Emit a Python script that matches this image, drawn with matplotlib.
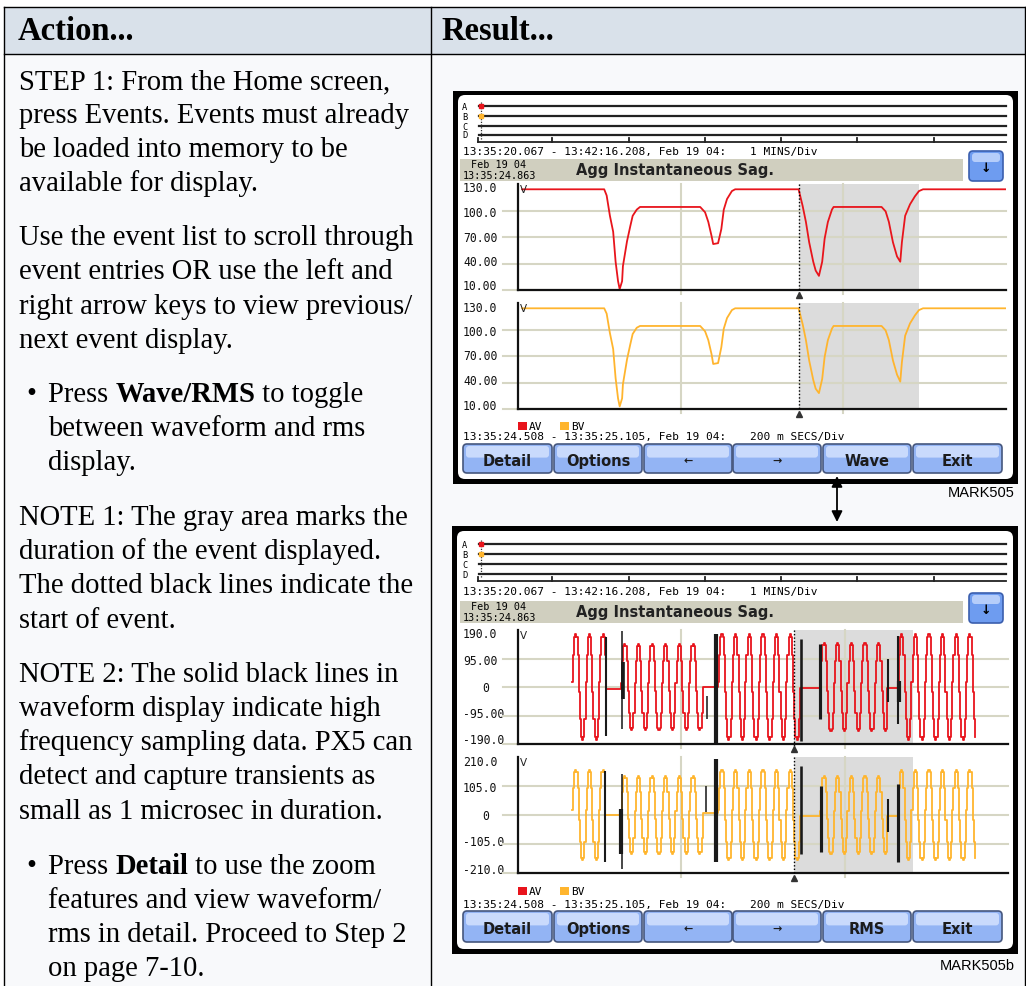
import matplotlib
matplotlib.use('Agg')
import matplotlib.pyplot as plt
from matplotlib.patches import Rectangle, FancyBboxPatch
from matplotlib.transforms import blended_transform_factory

# ---------------- data ----------------
# RMS view (top screenshot): time in ms from 13:35:24.508, volts
rms_t_ms = [5, 106, 109, 113, 117, 120, 123, 125, 128, 129, 134, 138, 141, 146, 150,
            224, 230, 234, 238, 240, 246, 250, 253, 257, 263, 267,
            345, 350, 354, 358, 363, 366, 370, 374, 377, 381, 386, 388,
            447, 452, 456, 461, 466, 470, 472, 476, 482, 488, 493, 498, 600]
rms_av = [124, 124, 117, 94, 76, 42, 20, 11, 20, 37, 65, 82, 94, 101, 104,
          104, 98, 87, 71, 62, 63, 79, 101, 113, 122, 124,
          124, 105, 87, 64, 42, 32, 26, 42, 68, 87, 101, 104,
          104, 99, 87, 64, 48, 42, 64, 94, 107, 116, 122, 124, 124]
rms_bv = [124, 124, 118, 96, 78, 45, 22, 13, 22, 38, 66, 83, 95, 102, 104,
          104, 98, 88, 72, 61, 62, 80, 101, 113, 122, 124,
          124, 106, 88, 65, 43, 33, 28, 44, 69, 88, 101, 104,
          104, 99, 88, 65, 49, 41, 63, 93, 107, 116, 122, 124, 124]
rms_yticks = [130, 100, 70, 40, 10]
rms_ylabels = ['130.0', '100.0', '70.00', '40.00', '10.00']
wave_av_yticks = [190, 95, 0, -95, -190]
wave_av_ylabels = ['190.0', '95.00', '0', '-95.00', '-190.0']
wave_bv_yticks = [210, 105, 0, -105, -210]
wave_bv_ylabels = ['210.0', '105.0', '0', '-105.0', '-210.0']

# Waveform view (bottom screenshot): one stepped cycle shape as drawn on screen
wave_cycle_shape = [0.1, 0.6, 0.95, 1.0, 0.95, 0.6, -0.1, -0.6, -0.95, -1.0, -0.95, -0.6]
cycle_ms = 16.7
# runs of cycles: (start ms, end ms, peak volts)
av_runs = [(66, 108, 177), (126, 226, 143), (245, 345, 177), (370, 452, 147), (465, 560, 177)]
bv_runs = [(66, 107, 163), (126, 226, 141), (245, 345, 163), (370, 452, 141), (465, 560, 163)]
# flat (no-signal) stretches: (start ms, end ms, level)
av_flats = [(108, 126, -5), (226, 245, 0), (345, 370, -3), (452, 465, -3)]
bv_flats = [(107, 126, 0), (226, 245, 8), (345, 370, -3), (452, 465, -3)]
# high-frequency sampling bars: (ms, low, high, width)
av_hf = [(108, -163, 167, 2), (127, -140, 187, 1.5), (128, -40, 83, 3.5), (231, -107, -30, 1.5),
         (242, -190, 177, 4), (346, -180, 160, 2.5), (370, -107, 143, 3),
         (453, -50, 93, 2), (465, -123, 170, 2), (466, -50, 20, 4)]
bv_hf = [(107, -170, 159, 2), (127, -195, 148, 1.5), (126, -141, 22, 4), (230, 11, 105, 1.5),
         (242, -170, 203, 4), (346, -141, 177, 2.5), (371, -134, 105, 3),
         (453, -62, 58, 2), (465, -170, 112, 3)]

overview_span = "13:35:20.067 - 13:42:16.208, Feb 19 04:"
detail_span = "13:35:24.508 - 13:35:25.105, Feb 19 04:"
buttons_top = ['Detail', 'Options', '\u2190', '\u2192', 'Wave', 'Exit']
buttons_bottom = ['Detail', 'Options', '\u2190', '\u2192', 'RMS', 'Exit']

left_lines = [
    [("STEP 1: From the Home screen,", False)],
    [("press Events. Events must already", False)],
    [("be loaded into memory to be", False)],
    [("available for display.", False)],
    [("Use the event list to scroll through", False)],
    [("event entries OR use the left and", False)],
    [("right arrow keys to view previous/", False)],
    [("next event display.", False)],
    [("Press ", False), ("Wave/RMS", True), (" to toggle", False)],
    [("between waveform and rms", False)],
    [("display.", False)],
    [("NOTE 1: The gray area marks the", False)],
    [("duration of the event displayed.", False)],
    [("The dotted black lines indicate the", False)],
    [("start of event.", False)],
    [("NOTE 2: The solid black lines in", False)],
    [("waveform display indicate high", False)],
    [("frequency sampling data. PX5 can", False)],
    [("detect and capture transients as", False)],
    [("small as 1 microsec in duration.", False)],
    [("Press ", False), ("Detail", True), (" to use the zoom", False)],
    [("features and view waveform/", False)],
    [("rms in detail. Proceed to Step 2", False)],
    [("on page 7-10.", False)],
]
left_line_y = [79, 113, 147, 181, 235, 269, 304, 338, 392, 426, 460, 515, 549, 583, 618,
               672, 706, 740, 774, 809, 864, 898, 932, 966]
left_bullets = {8, 20}
left_indent = {8, 9, 10, 20, 21, 22, 23}

# ---------------- figure ----------------
W, H = 1026, 987
fig = plt.figure(figsize=(W / 100, H / 100), dpi=100)
bg = fig.add_axes([0, 0, 1, 1])
bg.set_xlim(0, W)
bg.set_ylim(H, 0)
bg.axis('off')

RED = '#e8141c'
YEL = '#ffb52e'
GRID = '#d6d6c4'
SHADE = '#dcdcdc'
MONO = 'DejaVu Sans Mono'
BODY_FS = 20.6

# table
bg.add_patch(Rectangle((4, 8), W - 4, 47, facecolor='#d9e1ea', edgecolor='none', zorder=0))
bg.add_patch(Rectangle((4, 55), W - 4, H - 55, facecolor='#f8f9fb', edgecolor='none', zorder=0))
for seg in [((4, 1025), (8, 8)), ((4, 1025), (55, 55)), ((4, 4), (8, H)), ((431, 431), (8, H)),
            ((1025, 1025), (8, H))]:
    bg.plot(seg[0], seg[1], color='black', lw=1.0, zorder=1)
bg.text(18, 31, "Action...", family='Liberation Serif', weight='bold', fontsize=23.5,
        va='center', ha='left')
bg.text(441, 31, "Result...", family='Liberation Serif', weight='bold', fontsize=23.5,
        va='center', ha='left')

fig.canvas.draw()
renderer = fig.canvas.get_renderer()
inv = bg.transData.inverted()
for i, (parts, yc) in enumerate(zip(left_lines, left_line_y)):
    x = 48 if i in left_indent else 19
    if i in left_bullets:
        bg.text(26, yc + 10, "\u2022", family='Liberation Serif', fontsize=BODY_FS,
                va='baseline', ha='left')
    for txt, bold in parts:
        t = bg.text(x, yc + 10, txt, family='Liberation Serif', fontsize=BODY_FS,
                    weight='bold' if bold else 'normal', va='baseline', ha='left')
        bb = t.get_window_extent(renderer=renderer)
        x = inv.transform((bb.x1, bb.y0))[0]


def px_axes(x0, y0, x1, y1):
    return fig.add_axes([x0 / W, 1 - y1 / H, (x1 - x0) / W, (y1 - y0) / H])


def button(x0, x1, y0, y1, label):
    bg.add_patch(FancyBboxPatch((x0, y0), x1 - x0, y1 - y0,
                                boxstyle="round,pad=0,rounding_size=4",
                                facecolor='#93b4f4', edgecolor='#46577e', lw=1.2, zorder=3))
    bg.add_patch(FancyBboxPatch((x0 + 3, y0 + 2), x1 - x0 - 6, (y1 - y0) * 0.4,
                                boxstyle="round,pad=0,rounding_size=3",
                                facecolor='#c9dafc', edgecolor='none', zorder=3))
    fs = 8 if label in ('\u2190', '\u2192') else 10.5
    bg.text((x0 + x1) / 2, (y0 + y1) / 2 + 2, label, ha='center', va='center',
            fontsize=fs, weight='bold', color='#1c1c1c', zorder=4)


def chart(box, series, ylim, yticks, ylabels, shade, marker_x, hf=None):
    x0, y0, x1, y1 = box
    ax = px_axes(x0, y0, x1, y1)
    ax.set_facecolor('none')
    ax.set_xlim(0, 600)
    ax.set_ylim(*ylim)
    ax.set_xticks([])
    ax.set_yticks([])
    for s in ('top', 'right'):
        ax.spines[s].set_visible(False)
    for s in ('left', 'bottom'):
        ax.spines[s].set_linewidth(1.6)
        ax.spines[s].set_color('#111111')
    ax.axvspan(shade[0], shade[1], color=SHADE, lw=0, zorder=0)
    trb = blended_transform_factory(ax.transAxes, ax.transData)
    for v in yticks[1:]:
        ax.plot([-0.03, 1], [v, v], transform=trb, color=GRID, lw=1.5, zorder=0.5, clip_on=False)
    trx = blended_transform_factory(ax.transData, ax.transAxes)
    for v in (200, 400):
        ax.plot([v, v], [1.0, -0.035], transform=trx, color=GRID, lw=1.5, zorder=0.5,
                clip_on=False)
    ax.plot([marker_x, marker_x], [1.0, -0.02], transform=trx, color='black', lw=1.0,
            ls=(0, (1, 1.5)), zorder=3, clip_on=False)
    ax.plot([marker_x], [-0.045], transform=trx, marker='^', ms=4.5, color='#333333',
            clip_on=False, zorder=3)
    tt, vv, col, style = series
    ax.plot(tt, vv, color=col, lw=1.3, drawstyle=style, zorder=2)
    if hf:
        for (ht, lo, hi, w) in hf:
            ax.plot([ht, ht], [lo, hi], color='#1a1a1a', lw=w * 0.75, zorder=2.5,
                    solid_capstyle='butt')
    ax.text(2, ylim[1], "V", fontsize=7.5, ha='left', va='top', color='#222222')
    # tick labels: spread between just below the top and just above the bottom edge
    ytop, ybot = y0 + 4, y1 - 4
    for v, lab in zip(yticks, ylabels):
        ypx = ybot - (v - yticks[-1]) / (yticks[0] - yticks[-1]) * (ybot - ytop)
        xl = 463 if lab != '0' else 482
        bg.text(xl, ypx, lab, family=MONO, fontsize=8.3, ha='left', va='center', color='#111111')
    return ax


def build_wave(runs, flats):
    segs = [('r',) + r for r in runs] + [('f',) + f for f in flats]
    segs.sort(key=lambda s: s[1])
    tt, vv = [], []
    step = cycle_ms / len(wave_cycle_shape)
    for s in segs:
        if s[0] == 'r':
            _, a, b, amp = s
            k = 0
            while a + k * step < b:
                tt.append(a + k * step)
                vv.append(amp * wave_cycle_shape[k % len(wave_cycle_shape)])
                k += 1
        else:
            _, a, b, lvl = s
            tt += [a, b]
            vv += [lvl, lvl]
    return tt, vv


def screen(g, plots, btns, mark):
    fx0, fy0, fx1, fy1 = g['frame']
    bg.add_patch(Rectangle((fx0, fy0), fx1 - fx0, fy1 - fy0, facecolor='black', zorder=1))
    ix0, iy0, ix1, iy1 = g['inner']
    bg.add_patch(FancyBboxPatch((ix0, iy0), ix1 - ix0, iy1 - iy0,
                                boxstyle="round,pad=0,rounding_size=7",
                                facecolor='white', edgecolor='none', zorder=1.5))
    # channel overview
    for lab, y in zip("ABCD", g['chan']):
        bg.plot([479, 1006], [y, y], color='#222222', lw=1.6, zorder=2)
        bg.text(462, y, lab, fontsize=6.2, family=MONO, ha='left', va='center', zorder=2)
    bg.plot([481, 481], [g['chan'][0] - 4, g['chan'][3] + 4], color='#333333', lw=0.9,
            ls=(0, (1, 1.2)), zorder=2.2)
    bg.plot([481], [g['chan'][0]], marker='s', ms=3, color=RED, zorder=2.5)
    bg.plot([481], [g['chan'][1]], marker='s', ms=3, color=YEL, zorder=2.5)
    ya = g['axis']
    bg.plot([478, 1006], [ya, ya], color='#222222', lw=1.3, zorder=2)
    for tx in [478, 552, 629, 705, 781, 857, 934]:
        bg.plot([tx, tx], [ya - 4, ya], color='#222222', lw=1.3, zorder=2)
    bg.text(463, g['stamp'], overview_span, family=MONO, fontsize=8, ha='left', va='center', zorder=2)
    bg.text(750, g['stamp'], "1 MINS/Div", family=MONO, fontsize=8, ha='left', va='center', zorder=2)
    bx0, by0, bx1, by1 = g['bar']
    bg.add_patch(Rectangle((bx0, by0), bx1 - bx0, by1 - by0, facecolor='#d0cfbf', zorder=2))
    bg.text(471, by0 + 5.5, "Feb 19 04", family=MONO, fontsize=7.3, ha='left', va='center', zorder=3)
    bg.text(463, by0 + 16, "13:35:24.863", family=MONO, fontsize=7.3, ha='left', va='center', zorder=3)
    bg.text(576, (by0 + by1) / 2, "Agg Instantaneous Sag.", fontsize=10.5, weight='bold',
            ha='left', va='center', color='#222222', zorder=3)
    dx0, dy0, dx1, dy1 = g['down']
    bg.add_patch(FancyBboxPatch((dx0, dy0), dx1 - dx0, dy1 - dy0,
                                boxstyle="round,pad=0,rounding_size=4",
                                facecolor='#6e9cf0', edgecolor='#3b5fae', lw=1.2, zorder=3))
    bg.add_patch(FancyBboxPatch((dx0 + 3, dy0 + 2), dx1 - dx0 - 6, 9,
                                boxstyle="round,pad=0,rounding_size=3",
                                facecolor='#b5cdfa', edgecolor='none', zorder=3))
    bg.text((dx0 + dx1) / 2, (dy0 + dy1) / 2 + 1, "\u2193", fontsize=9, weight='bold',
            ha='center', va='center', zorder=4)
    for p in plots:
        chart(*p)
    # legend + time span
    ly = g['legend']
    bg.add_patch(Rectangle((518, ly - 4), 9, 8, facecolor=RED, zorder=2))
    bg.text(529, ly, "AV", family=MONO, fontsize=8, ha='left', va='center', zorder=2)
    bg.add_patch(Rectangle((560, ly - 4), 9, 8, facecolor=YEL, zorder=2))
    bg.text(571, ly, "BV", family=MONO, fontsize=8, ha='left', va='center', zorder=2)
    bg.text(463, g['span'], detail_span, family=MONO, fontsize=8, ha='left', va='center', zorder=2)
    bg.text(750, g['span'], "200 m SECS/Div", family=MONO, fontsize=8, ha='left', va='center', zorder=2)
    by0, by1 = g['btn']
    for (x0, x1), lab in zip([(463, 552), (554, 642), (644, 732), (733, 821), (823, 911), (913, 1002)], btns):
        button(x0, x1, by0, by1, lab)
    bg.text(1015, g['mark'], mark, family='Liberation Sans', fontsize=10.5, ha='right',
            va='center')


top_geom = dict(frame=(453, 92, 1018, 485), inner=(458, 96, 1013, 480), chan=[107, 117, 127, 136],
                axis=143, stamp=152, bar=(460, 160, 963, 182), down=(969, 152, 1003, 182),
                legend=427, span=437, btn=(445, 474), mark=493)
bot_geom = dict(frame=(452, 527, 1018, 955), inner=(457, 532, 1013, 950), chan=[545, 555, 565, 575],
                axis=582, stamp=592, bar=(460, 602, 963, 624), down=(969, 594, 1003, 624),
                legend=892, span=905, btn=(912, 943), mark=966)

top_shade = (345, 493)
bot_shade = (338, 484)

screen(top_geom,
       [((518, 185, 1006, 291), (rms_t_ms, rms_av, RED, 'default'), (10, 130), rms_yticks,
         rms_ylabels, top_shade, top_shade[0]),
        ((518, 304, 1006, 410), (rms_t_ms, rms_bv, YEL, 'default'), (10, 130), rms_yticks,
         rms_ylabels, top_shade, top_shade[0])],
       buttons_top, "MARK505")

av_t, av_v = build_wave(av_runs, av_flats)
bv_t, bv_v = build_wave(bv_runs, bv_flats)

screen(bot_geom,
       [((518, 631, 1008, 745), (av_t, av_v, RED, 'steps-post'), (-190, 190), wave_av_yticks,
         wave_av_ylabels, bot_shade, bot_shade[0], av_hf),
        ((518, 758, 1008, 874), (bv_t, bv_v, YEL, 'steps-post'), (-210, 210), wave_bv_yticks,
         wave_bv_ylabels, bot_shade, bot_shade[0], bv_hf)],
       buttons_bottom, "MARK505b")

# double arrow between the two screens
bg.annotate('', xy=(837, 477), xytext=(837, 523),
            arrowprops=dict(arrowstyle='<|-|>', color='black', lw=1.3, mutation_scale=16,
                            shrinkA=0, shrinkB=0))

fig.savefig('out.png', dpi=100)
